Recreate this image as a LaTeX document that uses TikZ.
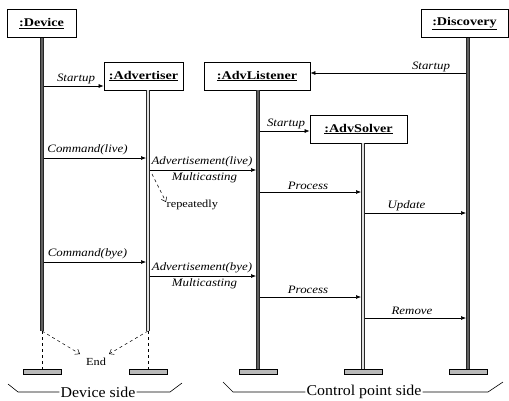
\documentclass[tikz,border=0pt]{standalone}
\usepackage{fontspec}
\setmainfont{Liberation Serif}
\newfontfamily\boxfont{Liberation Serif}[FakeStretch=1.2]
\newfontfamily\msgfont{Liberation Serif}[FakeStretch=1.14]
\newfontfamily\sidefont{Liberation Serif}[FakeStretch=1.06]
\usetikzlibrary{arrows.meta}
\begin{document}
\begin{tikzpicture}[x=1pt,y=-1pt,
  obj/.style={draw, line width=0.8pt, fill=white, minimum height=28pt, inner sep=0pt,
    font=\boxfont\bfseries\fontsize{11.8}{12}\selectfont},
  msg/.style={font=\msgfont\itshape\fontsize{11.3}{12}\selectfont, inner sep=0pt},
  plain/.style={font=\msgfont\fontsize{10.8}{12}\selectfont, inner sep=0pt},
  side/.style={font=\sidefont\fontsize{15}{16}\selectfont, inner sep=1pt},
  call/.style={-{Latex[length=5pt,width=4pt]}, line width=0.6pt},
  note/.style={dashed, -{Straight Barb[length=4pt,width=6pt]}, line width=0.5pt},
  heavylife/.style={draw=black!85, line width=4.2pt, postaction={draw=gray!75!black, line width=2.2pt}},
  lightlife/.style={draw=black!85, line width=3.4pt, postaction={draw=gray!25, line width=1.4pt}},
  tail/.style={dashed, line width=0.5pt},
  base/.style={draw, line width=0.6pt, fill=gray!55, minimum width=38pt, minimum height=5pt, inner sep=0pt},
  bracket/.style={line width=0.6pt}]
\useasboundingbox (0,0) rectangle (509,400);

% object boxes
\node[obj, minimum width=69pt] (dev) at (41.5,23.5) {\underline{:Device}};
\node[obj, minimum width=79pt] (adv) at (143.5,76) {\underline{:Advertiser}};
\node[obj, minimum width=106pt] (lis) at (257,76) {\underline{:AdvListener}};
\node[obj, minimum width=97pt] (sol) at (358.5,129) {\underline{:AdvSolver}};
\node[obj, minimum width=87pt] (dis) at (464.5,23.5) {\underline{:Discovery}};

% lifeline ends and base bars
\coordinate (devT) at (42,38); \coordinate (devE) at (42,331);
\coordinate (advT) at (148,90); \coordinate (advE) at (148,331);
\coordinate (lisT) at (258,90);
\coordinate (solT) at (363,143);
\coordinate (disT) at (468,38);
\node[base] (devB) at (42,371.5) {};
\node[base] (advB) at (148,371.5) {};
\node[base] (lisB) at (258,371.5) {};
\node[base] (solB) at (363,371.5) {};
\node[base] (disB) at (468,371.5) {};

\draw[tail] (devE) -- (devB.north);
\draw[tail] (advE) -- (advB.north);
\draw[heavylife] (devT) -- (devE);
\draw[lightlife] (advT) -- (advE);
\draw[heavylife] (lisT) -- (lisB.north);
\draw[lightlife] (solT) -- (solB.north);
\draw[heavylife] (disT) -- (disB.north);

% message end points on the lifelines
\coordinate (m1a) at (44,86);
\coordinate (m2a) at (466,73);
\coordinate (m3a) at (260,131);
\coordinate (m4a) at (44,158);   \coordinate (m4b) at (146,158);
\coordinate (m5a) at (150,170);  \coordinate (m5b) at (256,170);
\coordinate (m6a) at (260,192);  \coordinate (m6b) at (361,192);
\coordinate (m7a) at (365,213);  \coordinate (m7b) at (466,213);
\coordinate (m8a) at (44,262);   \coordinate (m8b) at (146,262);
\coordinate (m9a) at (150,276);  \coordinate (m9b) at (256,276);
\coordinate (m10a) at (260,297); \coordinate (m10b) at (361,297);
\coordinate (m11a) at (365,318); \coordinate (m11b) at (466,318);

\draw[call] (m1a) -- (adv.west |- m1a);
\node[msg] (l1) at (76,79) {Startup};
\draw[call] (m2a) -- (lis.east |- m2a);
\node[msg] (l2) at (431,66.5) {Startup};
\draw[call] (m3a) -- (sol.west |- m3a);
\node[msg] (l3) at (286,124) {Startup};

\draw[call] (m4a) -- (m4b);
\node[msg] (l4) at (87.5,150) {Command(live)};
\draw[call] (m5a) -- (m5b);
\node[msg] (l5) at (202,161.5) {Advertisement(live)};
\node[msg] (l5m) at (204.5,177.5) {Multicasting};
\coordinate (rpA) at (152,174);
\coordinate (rpB) at (166,202);
\draw[note] (rpA) -- (rpB);
\node[plain, anchor=west] (rep) at (166.5,205) {repeatedly};

\draw[call] (m6a) -- (m6b);
\node[msg] (l6) at (308,185.5) {Process};
\draw[call] (m7a) -- (m7b);
\node[msg] (l7) at (406.5,205.5) {Update};

\draw[call] (m8a) -- (m8b);
\node[msg] (l8) at (87.5,254) {Command(bye)};
\draw[call] (m9a) -- (m9b);
\node[msg] (l9) at (202,267.5) {Advertisement(bye)};
\node[msg] (l9m) at (204.5,284) {Multicasting};

\draw[call] (m10a) -- (m10b);
\node[msg] (l10) at (308,290) {Process};
\draw[call] (m11a) -- (m11b);
\node[msg] (l11) at (412,311) {Remove};

% end of the device-side objects
\node[plain] (end) at (96,362) {End};
\draw[note] (devE) -- (80,354) coordinate (endL);
\draw[note] (advE) -- (109,354) coordinate (endR);

% side brackets
\node[side] (ds) at (98,392) {Device side};
\coordinate (ds1) at (8,384); \coordinate (ds2) at (18,392);
\coordinate (ds3) at (170,392); \coordinate (ds4) at (182,383);
\draw[bracket] (ds1) -- (ds2) -- (ds.west);
\draw[bracket] (ds.east) -- (ds3) -- (ds4);

\node[side] (cs) at (364,392) {Control point side};
\coordinate (cs1) at (223,382); \coordinate (cs2) at (233,392);
\coordinate (cs3) at (488,392); \coordinate (cs4) at (503,382);
\draw[bracket] (cs1) -- (cs2) -- (cs.west);
\draw[bracket] (cs.east) -- (cs3) -- (cs4);
\end{tikzpicture}
\end{document}
